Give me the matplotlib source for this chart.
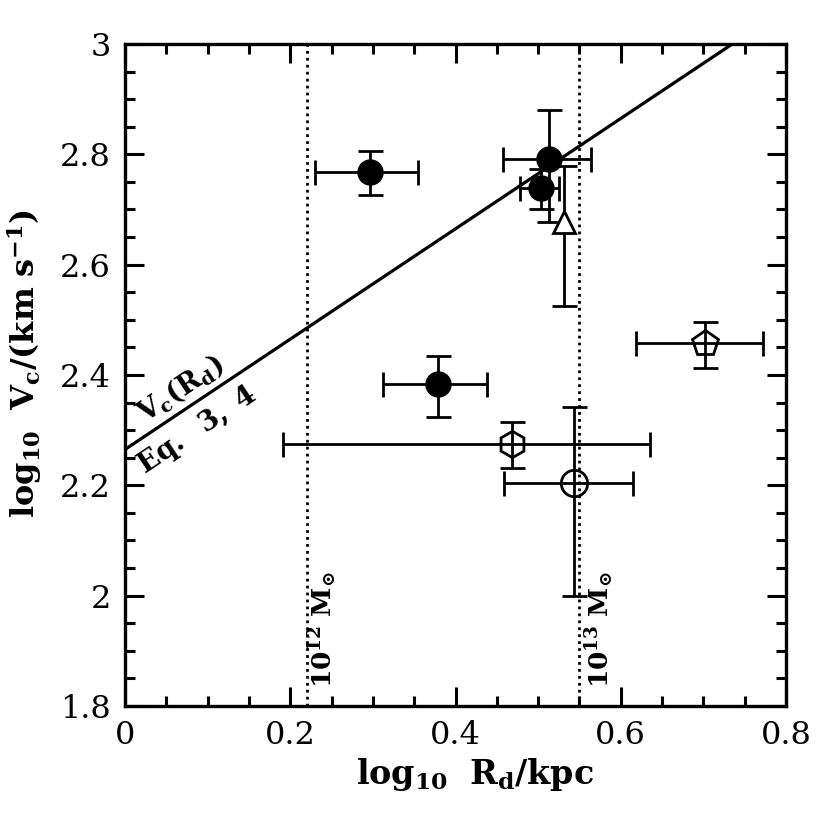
import matplotlib
matplotlib.use("Agg")
import matplotlib.pyplot as plt
from matplotlib.ticker import MultipleLocator, FixedLocator, FixedFormatter

plt.rcParams['font.family'] = ['DejaVu Serif']
plt.rcParams['mathtext.fontset'] = 'dejavuserif'

# ---- data ----
filled_x = [0.2965, 0.5136, 0.503, 0.3793]
filled_y = [2.7685, 2.791, 2.7384, 2.3832]
filled_xlo = [0.0665, 0.0558, 0.025, 0.0666]
filled_xhi = [0.058, 0.050, 0.022, 0.0585]
filled_ylo = [0.043, 0.113, 0.0374, 0.0598]
filled_yhi = [0.038, 0.090, 0.0346, 0.0513]

tri_x = [0.5313]
tri_y = [2.677]
tri_ylo = [0.152]
tri_yhi = [0.102]

pent_x = [0.702]
pent_y = [2.4586]
pent_xlo = [0.0835]
pent_xhi = [0.0698]
pent_ylo = [0.0464]
pent_yhi = [0.0381]

hex_x = [0.468]
hex_y = [2.275]
hex_xlo = [0.2764]
hex_xhi = [0.1668]
hex_ylo = [0.043]
hex_yhi = [0.0393]

ocirc_x = [0.544]
ocirc_y = [2.2037]
ocirc_xlo = [0.085]
ocirc_xhi = [0.0713]
ocirc_ylo = [0.2037]
ocirc_yhi = [0.1378]

line_x = [0.0, 0.8]
line_y = [2.265, 3.065]

mass_x = [0.22, 0.55]
mass_labels = [r'$\mathbf{10^{12}\ M_{\odot}}$', r'$\mathbf{10^{13}\ M_{\odot}}$']

xticks = [0, 0.2, 0.4, 0.6, 0.8]
xticklabels = ['0', '0.2', '0.4', '0.6', '0.8']
yticks = [1.8, 2.0, 2.2, 2.4, 2.6, 2.8, 3.0]
yticklabels = ['1.8', '2', '2.2', '2.4', '2.6', '2.8', '3']

# ---- figure ----
fig = plt.figure(figsize=(8.3, 8.3), dpi=100)
ax = fig.add_axes([125/830, 1-706/830, 661/830, 662/830])

ax.plot(line_x, line_y, color='black', lw=2.3, zorder=2)
for mx in mass_x:
    ax.axvline(mx, color='black', ls=(0, (1, 1.5)), lw=2.0, zorder=1)

ekw = dict(ecolor='black', elinewidth=2.0, capsize=9, capthick=2.0, zorder=3)
ax.errorbar(filled_x, filled_y, xerr=[filled_xlo, filled_xhi], yerr=[filled_ylo, filled_yhi],
            fmt='o', ms=18, mfc='black', mec='black', **ekw)
ax.errorbar(tri_x, tri_y, yerr=[tri_ylo, tri_yhi], fmt='^', ms=16, mfc='white', mec='black', mew=2.0, **ekw)
ax.errorbar(pent_x, pent_y, xerr=[pent_xlo, pent_xhi], yerr=[pent_ylo, pent_yhi],
            fmt='p', ms=19, mfc='none', mec='black', mew=2.0, **ekw)
ax.errorbar(hex_x, hex_y, xerr=[hex_xlo, hex_xhi], yerr=[hex_ylo, hex_yhi],
            fmt='h', ms=19, mfc='none', mec='black', mew=2.0, **ekw)
ax.errorbar(ocirc_x, ocirc_y, xerr=[ocirc_xlo, ocirc_xhi], yerr=[ocirc_ylo, ocirc_yhi],
            fmt='o', ms=19, mfc='none', mec='black', mew=2.0, **ekw)

ax.text(0.0666, 2.375, r'$\mathbf{V_c(R_d)}$', rotation=33.7, ha='center', va='center',
        fontsize=20, rotation_mode='anchor')
ax.text(0.087, 2.300, r'$\mathbf{Eq.\ \ 3,\ 4}$', rotation=33.7, ha='center', va='center',
        fontsize=20, rotation_mode='anchor')
ax.text(0.2397, 1.938, mass_labels[0], rotation=90, ha='center', va='center', fontsize=19)
ax.text(0.575, 1.938, mass_labels[1], rotation=90, ha='center', va='center', fontsize=19)

ax.set_xlim(0, 0.8)
ax.set_ylim(1.8, 3.0)
ax.xaxis.set_major_locator(FixedLocator(xticks))
ax.xaxis.set_major_formatter(FixedFormatter(xticklabels))
ax.yaxis.set_major_locator(FixedLocator(yticks))
ax.yaxis.set_major_formatter(FixedFormatter(yticklabels))
ax.xaxis.set_minor_locator(MultipleLocator(0.05))
ax.yaxis.set_minor_locator(MultipleLocator(0.05))
ax.tick_params(which='both', direction='in', top=True, right=True, width=2.2, labelsize=23)
ax.tick_params(which='major', length=14, pad=10)
ax.tick_params(which='minor', length=7)
for s in ax.spines.values():
    s.set_linewidth(2.4)

ax.set_xlabel(r'$\mathbf{log_{10}\ \ R_d/kpc}$', fontsize=24)
ax.set_ylabel(r'$\mathbf{log_{10}\ \ V_c/(km\ s^{-1})}$', fontsize=23)
ax.xaxis.set_label_coords(0.53, -0.075)
ax.yaxis.set_label_coords(-0.122, 0.517)

fig.savefig('out.png', dpi=100)
